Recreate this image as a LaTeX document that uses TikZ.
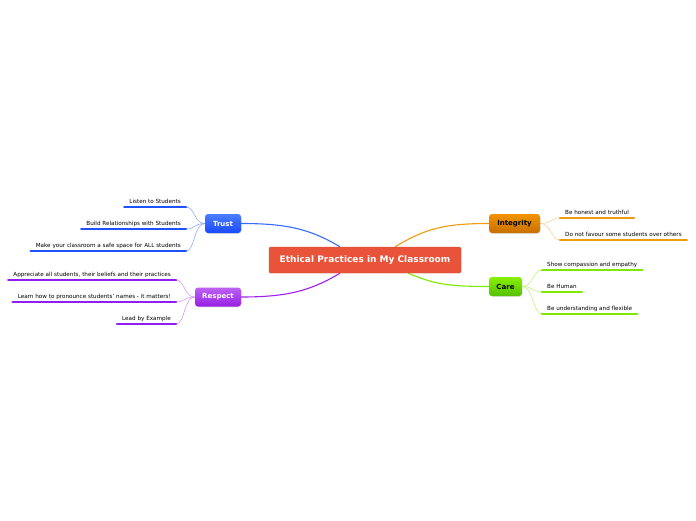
\documentclass[tikz,border=0pt]{standalone}
\usepackage{fontspec}
\setmainfont{DejaVu Sans}
\usetikzlibrary{calc,shadows,backgrounds}

\definecolor{centrec}{HTML}{E8533A}
\definecolor{trustc}{HTML}{1F5CFF}
\definecolor{respectc}{HTML}{A020F0}
\definecolor{integc}{HTML}{F09A10}
\definecolor{carec}{HTML}{7FE800}

\begin{document}
\begin{tikzpicture}[
    x=1pt, y=-1pt,
    every node/.style={font=\fontsize{5.65}{6}\selectfont},
    topic/.style={rounded corners=3pt, minimum height=19pt, inner sep=0pt,
      font=\fontsize{7}{8}\selectfont\bfseries,
      drop shadow={shadow xshift=0.6pt, shadow yshift=-0.8pt, opacity=0.25}},
    leaf/.style={inner xsep=5pt, inner ysep=2.5pt, text height=4.5pt, text depth=1.3pt},
    uline/.style={line width=2.4pt, line cap=round},
    twig/.style={line width=0.5pt},
    branch/.style={line width=1.1pt},
  ]
    \useasboundingbox (0,0) rectangle (696,520);

    % centre
    \node[fill=centrec, draw=centrec!85!black, rounded corners=1.5pt, text=white,
      font=\fontsize{9}{10}\selectfont\bfseries, minimum width=192pt, minimum height=26pt]
      (ctr) at (365,260) {Ethical Practices in My Classroom};

    % main topics
    \node[topic, top color=trustc!80!white, bottom color=trustc!80!blue, text=white,
      minimum width=36pt] (trust) at (223,223.5) {Trust};
    \node[topic, top color=respectc!70!white, bottom color=respectc!95!black, text=white,
      minimum width=46pt] (respect) at (218,297) {Respect};
    \node[topic, top color={rgb,255:red,242;green,148;blue,0}, bottom color={rgb,255:red,200;green,112;blue,0},
      text=black, minimum width=51pt] (integ) at (514.5,223.5) {Integrity};
    \node[topic, top color={rgb,255:red,136;green,240;blue,0}, bottom color={rgb,255:red,85;green,192;blue,0},
      text=black, minimum width=33pt] (care) at (505.5,286.5) {Care};

    % leaves of Trust
    \node[leaf, anchor=south east] (t1) at (186,207) {Listen to Students};
    \node[leaf, anchor=south east] (t2) at (186,229) {Build Relationships with Students};
    \node[leaf, anchor=south east] (t3) at (186,251) {Make your classroom a safe space for ALL students};

    % leaves of Respect
    \node[leaf, anchor=south east] (r1) at (176,280) {Appreciate all students, their beliefs and their practices};
    \node[leaf, anchor=south east] (r2) at (176,302) {Learn how to pronounce students' names - it matters!};
    \node[leaf, anchor=south east] (r3) at (176,324) {Lead by Example};

    % leaves of Integrity
    \node[leaf, anchor=south west] (i1) at (560,218) {Be honest and truthful};
    \node[leaf, anchor=south west] (i2) at (560,240) {Do not favour some students over others};

    % leaves of Care
    \node[leaf, anchor=south west] (c1) at (542,270) {Show compassion and empathy};
    \node[leaf, anchor=south west] (c2) at (542,292) {Be Human};
    \node[leaf, anchor=south west] (c3) at (542,314) {Be understanding and flexible};

    % underlines
    \foreach \n in {t1,t2,t3}
      \draw[uline, trustc!90!blue] (\n.south west) -- (\n.south east);
    \foreach \n in {r1,r2,r3}
      \draw[uline, respectc!90!blue] (\n.south west) -- (\n.south east);
    \foreach \n in {i1,i2}
      \draw[uline, integc] (\n.south west) -- (\n.south east);
    \foreach \n in {c1,c2,c3}
      \draw[uline, carec] (\n.south west) -- (\n.south east);

    % connectors, behind the boxes
    \begin{scope}[on background layer]
      \fill[white] (0,0) rectangle (696,520);
      \draw[branch, trustc!90!white] ($(ctr.north)+(-25,0)$) .. controls +(-30,-18) and +(45,0) .. (trust.east);
      \draw[branch, respectc] ($(ctr.south)+(-25,0)$) .. controls +(-30,18) and +(45,0) .. (respect.east);
      \draw[branch, integc] ($(ctr.north)+(30,0)$) .. controls +(30,-18) and +(-45,0) .. (integ.west);
      \draw[branch, carec] ($(ctr.south)+(43,0)$) .. controls +(25,10) and +(-45,0) .. (care.west);
      \foreach \n in {t1,t2,t3}
        \draw[twig, trustc!55!white] (trust.west) .. controls +(-11,0) and +(9,0) .. (\n.south east);
      \foreach \n in {r1,r2,r3}
        \draw[twig, respectc!50!white] (respect.west) .. controls +(-11,0) and +(9,0) .. (\n.south east);
      \foreach \n in {i1,i2}
        \draw[twig, integc!50!white] (integ.east) .. controls +(11,0) and +(-9,0) .. (\n.south west);
      \foreach \n in {c1,c2,c3}
        \draw[twig, carec!55!white] (care.east) .. controls +(11,0) and +(-9,0) .. (\n.south west);
    \end{scope}
\end{tikzpicture}
\end{document}
